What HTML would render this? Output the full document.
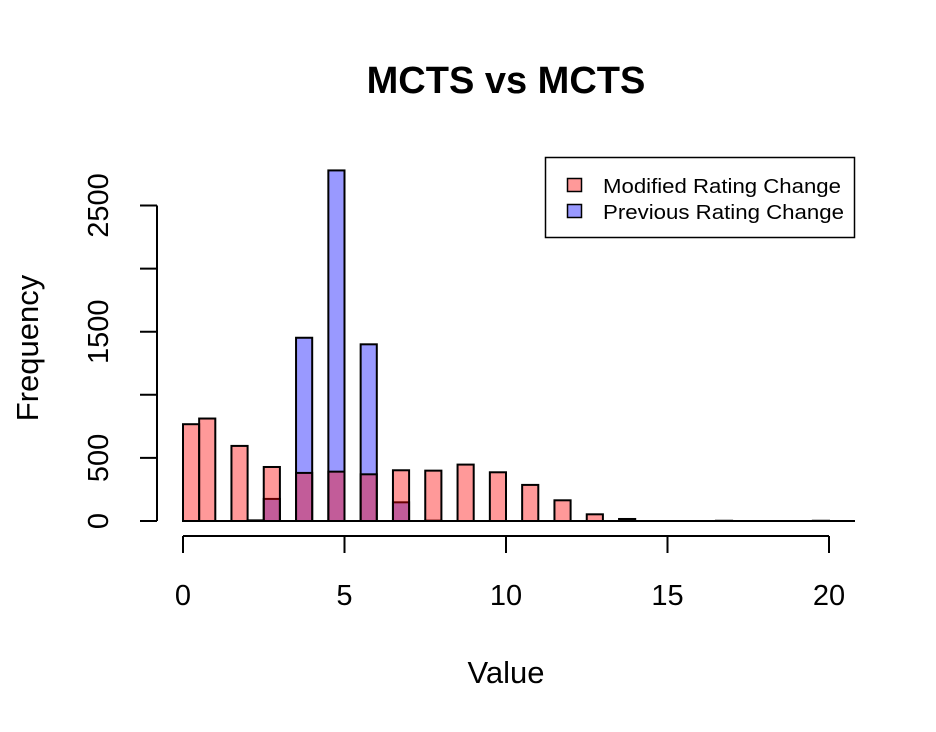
<!DOCTYPE html>
<html><head><meta charset="utf-8"><style>
html,body{margin:0;padding:0;background:#fff;}
svg{display:block;font-family:"Liberation Sans",Arial,sans-serif;}
</style></head><body>
<svg id="chart" width="936" height="732" viewBox="0 0 936 732">
<text x="506" y="93" text-anchor="middle" font-size="38" font-weight="bold">MCTS vs MCTS</text>
<text x="506" y="683" text-anchor="middle" font-size="31">Value</text>
<text transform="translate(38,348) rotate(-90)" text-anchor="middle" font-size="31">Frequency</text>
<g id="bars"></g>
<g id="axes"></g>
<g>
<rect x="545.5" y="157.5" width="309" height="80" fill="#fff" stroke="#000" stroke-width="1.5"/>
<rect x="567.5" y="178.5" width="14" height="13" fill="#ff9999" stroke="#000" stroke-width="1.5"/>
<text x="603" y="193" font-size="20" textLength="238" lengthAdjust="spacingAndGlyphs">Modified Rating Change</text>
<rect x="567.5" y="204.5" width="14" height="13" fill="#9999ff" stroke="#000" stroke-width="1.5"/>
<text x="603" y="219" font-size="20" textLength="241" lengthAdjust="spacingAndGlyphs">Previous Rating Change</text>
</g>
</svg>
<script>
// bins: [binStart, binStart+0.5]
const binStarts = [0,0.5,1,1.5,2,2.5,3,3.5,4,4.5,5,5.5,6,6.5,7,7.5,8,8.5,9,9.5,10,10.5,11,11.5,12,12.5,13,13.5,14,14.5,15,15.5,16,16.5,17,17.5,18,18.5,19,19.5,20];
const modifiedValues = [767,812,0,595,5,428,0,381,0,391,0,370,0,402,0,399,0,447,0,386,0,286,0,164,0,53,0,16,0,0,0,0,0,2,0,0,0,0,0,2,0];
const previousValues = [0,0,0,0,0,175,0,1452,0,2778,0,1400,0,148,0,3,0,0,0,0,0,0,0,0,0,0,0,0,0,0,0,0,0,0,0,0,0,0,0,0,0];
const xTicks = [0,5,10,15,20];
const yTicks = [0,500,1000,1500,2000,2500];
const yTickLabels = ["0","500","","1500","","2500"];
const binWidth = 0.5;

const xs = v => 183 + v*32.3;
const ys = v => 521 - v*0.1262;
const NS = "http://www.w3.org/2000/svg";
const bars = document.getElementById('bars');
const axes = document.getElementById('axes');
function mk(tag, attrs, parent){const e=document.createElementNS(NS,tag);for(const k in attrs)e.setAttribute(k,attrs[k]);parent.appendChild(e);return e;}

function drawSeries(vals, fill, name){
  binStarts.forEach((b,i)=>{
    const v = vals[i];
    if(!v) return;
    const x0 = xs(b), x1 = xs(b+binWidth), y = ys(v);
    const r = mk('rect',{x:x0,y:y,width:x1-x0,height:ys(0)-y,fill:fill,'fill-opacity':0.4,stroke:'#000','stroke-width':2},bars);
    
    
  });
}
drawSeries(previousValues,'#0000ff','bar-previous');
drawSeries(modifiedValues,'#ff0000','bar-modified');
let bl = mk('line',{x1:xs(0),x2:855,y1:ys(0),y2:ys(0),stroke:'#000','stroke-width':2},bars);



let xa = mk('line',{x1:xs(xTicks[0]),x2:xs(xTicks[xTicks.length-1]),y1:536,y2:536,stroke:'#000','stroke-width':2},axes);


xTicks.forEach(t=>{
  mk('line',{x1:xs(t),x2:xs(t),y1:536,y2:553,stroke:'#000','stroke-width':2},axes);
  const tx = mk('text',{x:xs(t),y:605,'text-anchor':'middle','font-size':29},axes);
  tx.textContent = t;
  
  
});
let ya = mk('line',{x1:157,x2:157,y1:ys(yTicks[0]),y2:ys(yTicks[yTicks.length-1]),stroke:'#000','stroke-width':2},axes);


yTicks.forEach((t,i)=>{
  mk('line',{x1:140,x2:157,y1:ys(t),y2:ys(t),stroke:'#000','stroke-width':2},axes);
  if(!yTickLabels[i]) return;
  const tx = mk('text',{transform:`translate(108,${ys(t)}) rotate(-90)`,'text-anchor':'middle','font-size':29},axes);
  tx.textContent = yTickLabels[i];
  
  
});
</script>
</body></html>
